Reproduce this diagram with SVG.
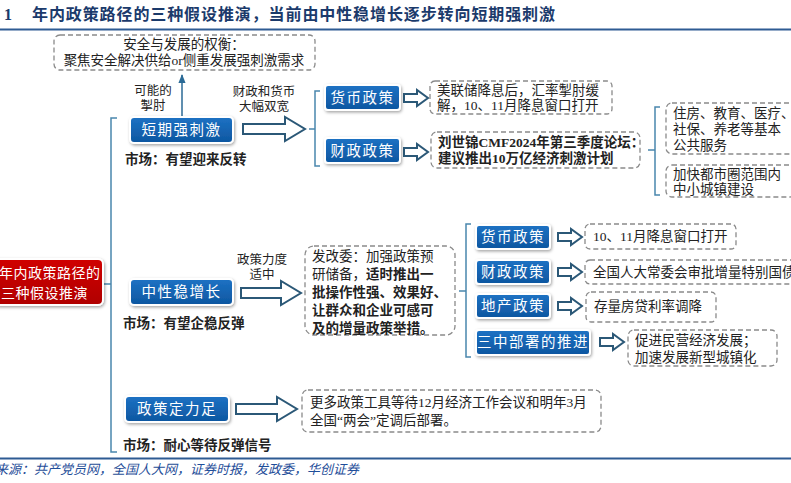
<svg xmlns="http://www.w3.org/2000/svg" width="791" height="483" viewBox="0 0 791 483">
<style>
text{font-family:"Liberation Serif","Noto Sans CJK SC",serif;font-size:13.5px;fill:#222}
.title{font-size:16px;font-weight:bold;fill:#1b3a6b;letter-spacing:0.9px}
.nb rect{fill:url(#gb);stroke:#fff;stroke-width:2}
.nb text{fill:#fff;font-size:14.5px;letter-spacing:1.5px;text-anchor:middle}
.dash{fill:none;stroke:#8a8a8a;stroke-width:1.3;stroke-dasharray:5 3}
.br{fill:none;stroke:#4a86ad;stroke-width:1.5}
.ha{fill:#fff;stroke:#2b5877;stroke-width:2;stroke-linejoin:miter}
.b{font-weight:bold}
.mk{font-weight:bold;font-size:13.5px}
.lbl{font-size:12.5px;text-anchor:middle}
</style>
<defs>
<linearGradient id="gb" x1="0" y1="0" x2="0" y2="1">
<stop offset="0" stop-color="#1d72c4"/>
<stop offset="1" stop-color="#0e56a0"/>
</linearGradient>
<linearGradient id="gr" x1="0" y1="0" x2="0" y2="1">
<stop offset="0" stop-color="#d00000"/>
<stop offset="1" stop-color="#b00000"/>
</linearGradient>
<filter id="sh" x="-10%" y="-20%" width="130%" height="160%">
<feDropShadow dx="1" dy="1.5" stdDeviation="1.5" flood-color="#000" flood-opacity="0.35"/>
</filter>
<marker id="ah" viewBox="0 0 10 10" refX="9" refY="5" markerWidth="6" markerHeight="6" orient="auto">
<path d="M0 1 L10 5 L0 9 Z" fill="#2b6a96"/>
</marker>
</defs>

<text class="title" x="4" y="20">1</text>
<text class="title" x="32" y="20">年内政策路径的三种假设推演，当前由中性稳增长逐步转向短期强刺激</text>
<line x1="0" y1="29.5" x2="791" y2="29.5" stroke="#2e5b93" stroke-width="2"/>

<g id="connectors">
<line x1="182" y1="117" x2="182" y2="75" stroke="#2b6a96" stroke-width="1.5" marker-end="url(#ah)"/>
<path class="br" d="M117 118 H111 V452 H117 M103 284 H111"/>
<path class="br" d="M320 91 H315 V166 H320 M309 129 H315"/>
<path class="br" d="M660 107 H655 V195 H660 M648 150 H655"/>
<path class="br" d="M471 224 H466 V357 H471 M459 291 H466"/>
<path class="ha" d="M243 124 L285 124 L285 117 L305 129 L285 141 L285 134 L243 134 Z"/>
<path class="ha" d="M241 288 L281 288 L281 281 L301 293 L281 305 L281 298 L241 298 Z"/>
<path class="ha" d="M236 404 L277 404 L277 397 L297 409 L277 421 L277 414 L236 414 Z"/>
<path class="ha" d="M404 94 L417 94 L417 90 L428 98 L417 106 L417 102 L404 102 Z"/>
<path class="ha" d="M404 148 L417 148 L417 144 L428 152 L417 160 L417 156 L404 156 Z"/>
<path class="ha" d="M558 233 L571 233 L571 229 L582 237 L571 245 L571 241 L558 241 Z"/>
<path class="ha" d="M558 268 L571 268 L571 264 L582 272 L571 280 L571 276 L558 276 Z"/>
<path class="ha" d="M558 302 L571 302 L571 298 L582 306 L571 314 L571 310 L558 310 Z"/>
<path class="ha" d="M600 338 L613 338 L613 334 L624 342 L613 350 L613 346 L600 346 Z"/>
<text class="lbl" x="153" y="95">可能的</text>
<text class="lbl" x="153" y="110">掣肘</text>
<text class="lbl" x="264" y="96">财政和货币</text>
<text class="lbl" x="264" y="111">大幅双宽</text>
<text class="lbl" x="262" y="264">政策力度</text>
<text class="lbl" x="262" y="279">适中</text>
</g>

<g id="top-note">
<rect class="dash" x="54" y="35" width="261" height="35" rx="6"/>
<text x="184" y="49" text-anchor="middle">安全与发展的权衡：</text>
<text x="184" y="65" text-anchor="middle">聚焦安全解决供给or侧重发展强刺激需求</text>
</g>

<g id="root">
<rect x="-6" y="259" width="109" height="46" rx="5" fill="url(#gr)" stroke="#fff" stroke-width="2" filter="url(#sh)"/>
<text x="-1" y="278" style="fill:#fff;font-size:14px;letter-spacing:0.5px">年内政策路径的</text>
<text x="1" y="298" style="fill:#fff;font-size:14px;letter-spacing:0.5px">三种假设推演</text>
</g>

<g id="short" class="nb">
<rect x="130" y="117" width="103" height="26" rx="4" filter="url(#sh)"/>
<text x="181.5" y="135">短期强刺激</text>
</g>
<text class="mk" x="125" y="164">市场：有望迎来反转</text>

<g id="short-money" class="nb">
<rect x="325" y="85" width="75" height="25" rx="3" filter="url(#sh)"/>
<text x="362.5" y="103">货币政策</text>
</g>
<g id="short-fiscal" class="nb">
<rect x="325" y="138" width="75" height="25" rx="3" filter="url(#sh)"/>
<text x="362.5" y="156">财政政策</text>
</g>
<g id="short-money-note">
<rect class="dash" x="430" y="81" width="182" height="33" rx="5"/>
<text x="437" y="95">美联储降息后，汇率掣肘缓</text>
<text x="437" y="110">解，10、11月降息窗口打开</text>
</g>
<g id="short-fiscal-note">
<rect class="dash" x="431" y="132" width="209" height="36" rx="6"/>
<text class="b" x="438" y="147">刘世锦CMF2024年第三季度论坛：</text>
<text class="b" x="438" y="163">建议推出10万亿经济刺激计划</text>
</g>
<g id="fiscal-use1">
<rect class="dash" x="666" y="103" width="130" height="51" rx="6"/>
<text x="673" y="118">住房、教育、医疗、</text>
<text x="673" y="134">社保、养老等基本</text>
<text x="673" y="150">公共服务</text>
</g>
<g id="fiscal-use2">
<rect class="dash" x="666" y="165" width="130" height="32" rx="6"/>
<text x="673" y="179">加快都市圈范围内</text>
<text x="673" y="194">中小城镇建设</text>
</g>

<g id="neutral" class="nb">
<rect x="130" y="279" width="103" height="26" rx="4" filter="url(#sh)"/>
<text x="181.5" y="297">中性稳增长</text>
</g>
<text class="mk" x="123" y="328">市场：有望企稳反弹</text>

<g id="ndrc-note">
<rect class="dash" x="305" y="246" width="150" height="89" rx="9"/>
<text x="312" y="261">发改委：加强政策预</text>
<text x="312" y="279">研储备，<tspan class="b">适时推出一</tspan></text>
<text class="b" x="312" y="297">批操作性强、效果好、</text>
<text class="b" x="312" y="315">让群众和企业可感可</text>
<text class="b" x="312" y="333">及的增量政策举措。</text>
</g>

<g id="n-money" class="nb">
<rect x="476" y="225" width="74" height="24" rx="3" filter="url(#sh)"/>
<text x="513" y="242">货币政策</text>
</g>
<g id="n-fiscal" class="nb">
<rect x="476" y="260" width="74" height="24" rx="3" filter="url(#sh)"/>
<text x="513" y="277">财政政策</text>
</g>
<g id="n-property" class="nb">
<rect x="476" y="294" width="74" height="24" rx="3" filter="url(#sh)"/>
<text x="513" y="311">地产政策</text>
</g>
<g id="n-plenum" class="nb">
<rect x="476" y="330" width="114" height="25" rx="3" filter="url(#sh)"/>
<text x="533" y="347">三中部署的推进</text>
</g>

<g id="n-money-note">
<rect class="dash" x="585" y="224" width="151" height="25" rx="5"/>
<text x="593" y="241">10、11月降息窗口打开</text>
</g>
<g id="n-fiscal-note">
<rect class="dash" x="585" y="260" width="215" height="24" rx="5"/>
<text x="593" y="277">全国人大常委会审批增量特别国债</text>
</g>
<g id="n-property-note">
<rect class="dash" x="586" y="292" width="130" height="30" rx="5"/>
<text x="594" y="311">存量房贷利率调降</text>
</g>
<g id="n-plenum-note">
<rect class="dash" x="628" y="330" width="149" height="36" rx="6"/>
<text x="635" y="345">促进民营经济发展；</text>
<text x="635" y="362">加速发展新型城镇化</text>
</g>

<g id="steady" class="nb">
<rect x="125" y="396" width="104" height="26" rx="4" filter="url(#sh)"/>
<text x="177" y="414">政策定力足</text>
</g>
<text class="mk" x="123" y="450">市场：耐心等待反弹信号</text>
<g id="steady-note">
<rect class="dash" x="302" y="390" width="299" height="42" rx="6"/>
<text x="310" y="407">更多政策工具等待12月经济工作会议和明年3月</text>
<text x="310" y="425">全国“两会”定调后部署。</text>
</g>

<line x1="0" y1="458.5" x2="791" y2="458.5" stroke="#2e5b93" stroke-width="2"/>
<text x="-31" y="474" style="fill:#1f4e99;font-style:italic;font-size:13px">资料来源：共产党员网，全国人大网，证券时报，发政委，华创证券</text>
</svg>
